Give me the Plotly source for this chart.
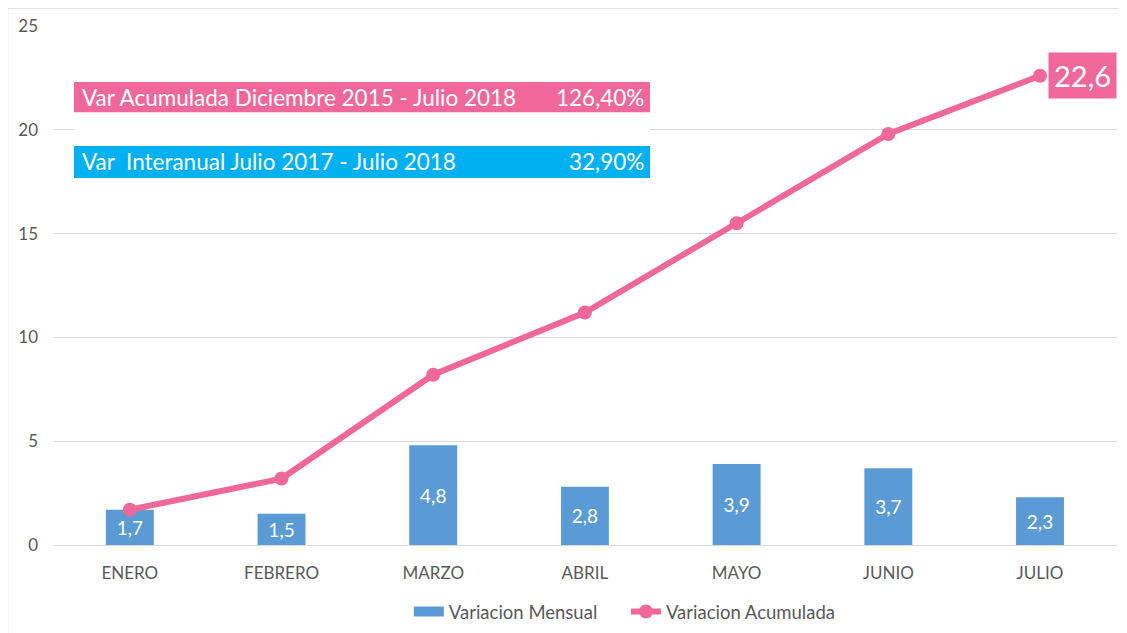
import plotly.graph_objects as go

meses = ["ENERO", "FEBRERO", "MARZO", "ABRIL", "MAYO", "JUNIO", "JULIO"]
variacion_mensual = [1.7, 1.5, 4.8, 2.8, 3.9, 3.7, 2.3]
variacion_acumulada = [1.7, 3.2, 8.2, 11.2, 15.5, 19.8, 22.6]
y_ticks = [0, 5, 10, 15, 20, 25]

PINK = "#F0679A"
BLUE_BOX = "#00B0F0"
BAR = "#5B9BD5"
GRAY = "#595959"
FONT = "Lato"

fig = go.Figure()
fig.add_trace(go.Bar(
    x=meses, y=variacion_mensual, name="Variacion Mensual",
    marker=dict(color=BAR, line=dict(width=0)),
    texttemplate="%{y:.1f}", textposition="inside", insidetextanchor="middle",
    textfont=dict(color="white", size=19, family=FONT),
    textangle=0, constraintext="none", showlegend=False,
))
# legend entry for the bars drawn as a wide rectangle (Excel style)
fig.add_trace(go.Scatter(
    x=[None], y=[None], name="Variacion Mensual" + "\u00a0" * 5, mode="lines",
    line=dict(color=BAR, width=10), hoverinfo="skip",
))
fig.add_trace(go.Scatter(
    x=meses, y=variacion_acumulada, name="Variacion Acumulada",
    mode="lines+markers",
    line=dict(color=PINK, width=6),
    marker=dict(color=PINK, size=14),
))

# 22,6 label at the last point
fig.add_annotation(
    x=meses[-1], y=variacion_acumulada[-1], xref="x", yref="y",
    text=f"{variacion_acumulada[-1]:.1f}".replace(".", ","),
    showarrow=False, xanchor="left", yanchor="middle", xshift=8,
    bgcolor=PINK, borderpad=5,
    font=dict(color="white", size=29, family=FONT),
)

# Info boxes
shapes = [
    dict(type="rect", xref="paper", yref="paper", x0=0.0188, x1=0.5607, y0=0.769, y1=0.834,
         fillcolor="white", line=dict(width=0), layer="above"),
    dict(type="rect", xref="paper", yref="paper", x0=0.0188, x1=0.5607, y0=0.834, y1=0.892,
         fillcolor=PINK, line=dict(width=0), layer="above"),
    dict(type="rect", xref="paper", yref="paper", x0=0.0188, x1=0.5607, y0=0.707, y1=0.769,
         fillcolor=BLUE_BOX, line=dict(width=0), layer="above"),
    dict(type="rect", xref="paper", yref="paper", x0=-0.0438, x1=1.2, y0=-0.3, y1=1.0347,
         fillcolor="rgba(0,0,0,0)", line=dict(width=1.5, color="#D9D9D9"), layer="below"),
]
fig.update_layout(shapes=shapes)

box_font = dict(color="white", size=22.5, family=FONT)
fig.add_annotation(xref="paper", yref="paper", x=0.0245, y=0.863, xanchor="left", yanchor="middle",
                   text="Var Acumulada Diciembre 2015 - Julio 2018", showarrow=False, font=box_font)
fig.add_annotation(xref="paper", yref="paper", x=0.557, y=0.863, xanchor="right", yanchor="middle",
                   text="126,40%", showarrow=False, font=box_font)
fig.add_annotation(xref="paper", yref="paper", x=0.0245, y=0.738, xanchor="left", yanchor="middle",
                   text="Var\u00a0 Interanual Julio 2017 - Julio 2018", showarrow=False, font=box_font)
fig.add_annotation(xref="paper", yref="paper", x=0.557, y=0.738, xanchor="right", yanchor="middle",
                   text="32,90%", showarrow=False, font=box_font)

fig.update_layout(
    width=1119, height=625,
    margin=dict(l=46, r=10, t=18, b=88, autoexpand=False),
    paper_bgcolor="white", plot_bgcolor="white",
    separators=",.",
    bargap=0.684,
    font=dict(family=FONT, color=GRAY, size=17),
    xaxis=dict(showgrid=False, showline=False, ticks="", ticklabelstandoff=16, automargin=False,
               tickfont=dict(size=17, color=GRAY, family=FONT)),
    yaxis=dict(range=[0, 25], tickvals=y_ticks, showgrid=True, gridcolor="#D9D9D9", gridwidth=1.3,
               zeroline=True, zerolinecolor="#D9D9D9", zerolinewidth=1.3, showline=False, automargin=False,
               ticks="", ticklabelstandoff=15, tickfont=dict(size=17, color=GRAY, family=FONT)),
    legend=dict(orientation="h", x=0.537, xanchor="center", y=-0.129, yanchor="middle",
                font=dict(size=18.5, color=GRAY, family=FONT), itemwidth=30),
    showlegend=True,
)

fig.write_html("out.html")
